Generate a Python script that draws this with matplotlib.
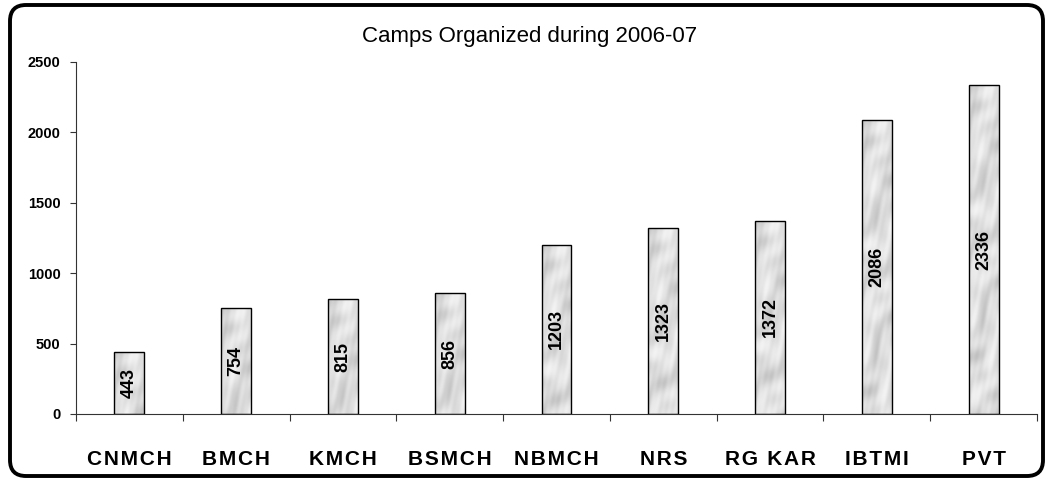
import numpy as np
import matplotlib
matplotlib.use("Agg")
import matplotlib.pyplot as plt
from matplotlib.patches import FancyBboxPatch

# ---- data ----
centres = ["CNMCH", "BMCH", "KMCH", "BSMCH", "NBMCH", "NRS", "RG KAR", "IBTMI", "PVT"]
camps = [443, 754, 815, 856, 1203, 1323, 1372, 2086, 2336]
y_ticks = [0, 500, 1000, 1500, 2000, 2500]
title = "Camps Organized during 2006-07"

plt.rcParams['font.family'] = ['Liberation Sans', 'DejaVu Sans']

fig = plt.figure(figsize=(10.48, 4.79), dpi=100)
ax = fig.add_axes([0.0725, 0.1357, 0.917, 0.735])

# marble-like grey texture (decoration only, not data)
yy, xx = np.mgrid[0:300, 0:40]
u = xx * 0.75 + yy * 0.7     # diagonal direction in pixel space
w = xx * 0.75 - yy * 0.5
tex = (np.sin(u * 0.13 + 1.6 * np.sin(w * 0.07))
       + 0.7 * np.sin(u * 0.31 + 2.0 * np.cos(w * 0.11 + 1.0))
       + 0.5 * np.cos(w * 0.23 + np.sin(u * 0.17))
       + 0.3 * np.sin(u * 0.6 + w * 0.4))
tex = (tex - tex.min()) / (tex.max() - tex.min())
tex = 0.95 - 0.2 * tex ** 1.3

x = np.arange(len(centres))
bars = ax.bar(x, camps, width=0.28, facecolor='none', edgecolor='black',
              linewidth=1.0, zorder=3)
for b, v in zip(bars, camps):
    x0 = b.get_x()
    rows = max(int(300 * v / 2500), 10)
    im = ax.imshow(tex[:rows], cmap='gray', vmin=0, vmax=1, aspect='auto',
                   extent=(x0, x0 + b.get_width(), 0, v), zorder=2,
                   interpolation='bilinear')
    im.set_clip_path(b)
    ax.text(x0 + b.get_width() / 2, v / 2, str(v), rotation=90,
            ha='center', va='center', fontsize=13, fontweight='bold', zorder=4)

ax.set_xlim(-0.5, len(centres) - 0.5)
ax.set_ylim(0, 2500)
ax.set_yticks(y_ticks)
ax.set_yticklabels([str(t) for t in y_ticks], fontsize=10.5, fontweight='bold')
ax.tick_params(axis='y', length=4, width=0.8, pad=7, color='#333333')

ax.set_xticks(x)
ax.set_xticklabels(['\u200a'.join(c) for c in centres], fontsize=15, fontweight='bold')
ax.tick_params(axis='x', which='major', length=0, pad=26)
ax.set_xticks(np.arange(-0.5, len(centres)), minor=True)
ax.tick_params(axis='x', which='minor', length=5, width=0.8, color='#333333')

for s in ['top', 'right']:
    ax.spines[s].set_visible(False)
for s in ['left', 'bottom']:
    ax.spines[s].set_color('#333333')
    ax.spines[s].set_linewidth(0.8)

fig.text(0.505, 0.913, title, ha='center', va='baseline', fontsize=16)

frame = FancyBboxPatch((0.10, 0.03), 10.33, 4.71,
                       boxstyle="round,pad=0,rounding_size=0.16",
                       transform=fig.dpi_scale_trans, facecolor='none',
                       edgecolor='black', linewidth=2.8)
fig.patches.append(frame)

fig.savefig("out.png", dpi=100)
